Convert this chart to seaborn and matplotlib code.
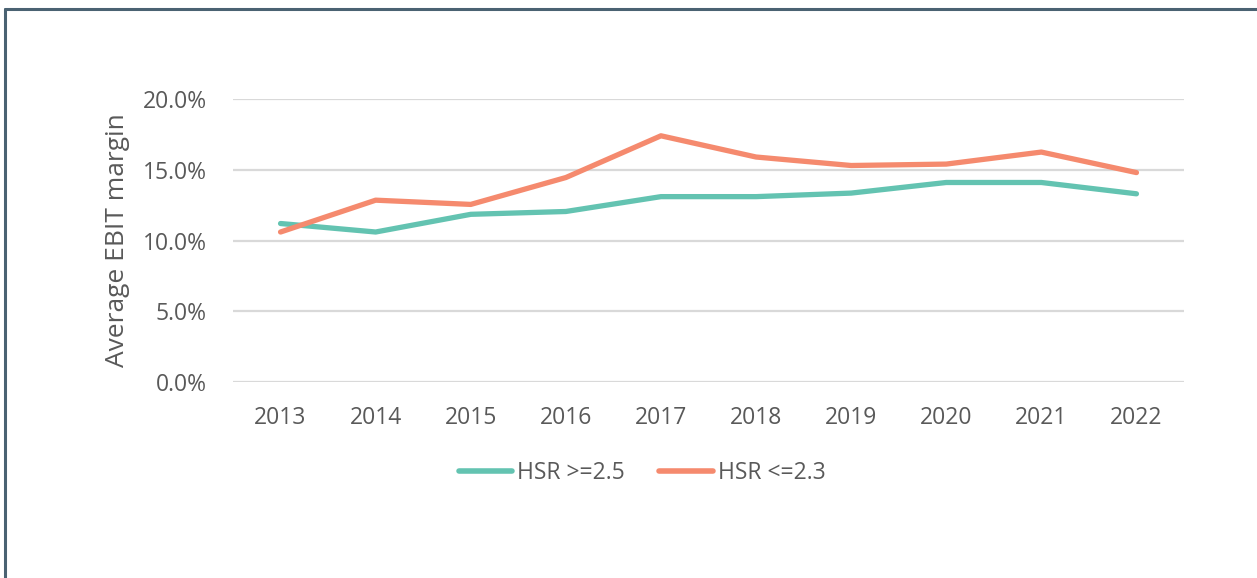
import matplotlib
matplotlib.use("Agg")
import matplotlib.pyplot as plt
import seaborn as sns
import pandas as pd
from matplotlib.lines import Line2D
from matplotlib.ticker import FuncFormatter

years = ["2013", "2014", "2015", "2016", "2017", "2018", "2019", "2020", "2021", "2022"]
hsr_high = [11.2, 10.6, 11.85, 12.05, 13.1, 13.1, 13.35, 14.1, 14.1, 13.3]
hsr_low = [10.6, 12.85, 12.55, 14.45, 17.4, 15.9, 15.3, 15.4, 16.25, 14.8]
series_names = ["HSR >=2.5", "HSR <=2.3"]
colors = ["#63C3B1", "#F58A6E"]

df = pd.DataFrame({
    "year": years * 2,
    "value": [v / 100 for v in hsr_high + hsr_low],
    "series": [series_names[0]] * len(years) + [series_names[1]] * len(years),
})

sns.set_theme(style="white")
plt.rcParams["font.family"] = ["Open Sans", "DejaVu Sans"]

W, H = 1257, 578
fig = plt.figure(figsize=(W / 100, H / 100), dpi=100)
fig.patch.set_facecolor("white")
ax = fig.add_axes([233 / W, 1 - 382 / H, (1184 - 233) / W, (382 - 99) / H])

sns.lineplot(data=df, x="year", y="value", hue="series", palette=colors,
             linewidth=3.8, ax=ax, legend=False, sort=False)
for ln in ax.get_lines():
    ln.set_solid_capstyle("round")
    ln.set_solid_joinstyle("round")
    ln.set_clip_on(False)

ax.set_xlim(-0.5, len(years) - 0.5)
ax.set_ylim(0, 0.2)
ax.set_yticks([0, 0.05, 0.10, 0.15, 0.20])
ax.yaxis.set_major_formatter(FuncFormatter(lambda v, p: f"{v*100:.1f}%"))
ax.grid(axis="y", color="#D9D9D9", linewidth=1.6)
ax.grid(axis="x", visible=False)
ax.set_axisbelow(True)
for s in ax.spines.values():
    s.set_visible(False)
ax.tick_params(axis="both", length=0, labelsize=16.5, labelcolor="#595959")
ax.tick_params(axis="x", pad=17)
ax.tick_params(axis="y", pad=19)
ax.set_xlabel("")
ax.set_ylabel("Average EBIT margin", fontsize=19, color="#595959", labelpad=9)

handles = [Line2D([0], [0], color=c, linewidth=4, solid_capstyle="round") for c in colors]
fig.legend(handles, series_names, loc="center", bbox_to_anchor=(642 / W, 1 - 473 / H),
           ncol=2, frameon=False, fontsize=16.5, handlelength=2.35, handletextpad=0.2,
           columnspacing=1.5, labelcolor="#595959")

# frame (top and left border)
fig.add_artist(Line2D([5 / W, 1], [1 - 8.5 / H, 1 - 8.5 / H], color="#4A6272", linewidth=2.2,
                      transform=fig.transFigure))
fig.add_artist(Line2D([5 / W, 5 / W], [0, 1 - 8.5 / H], color="#4A6272", linewidth=2.2,
                      transform=fig.transFigure))

fig.savefig("out.png", dpi=100, facecolor="white")
